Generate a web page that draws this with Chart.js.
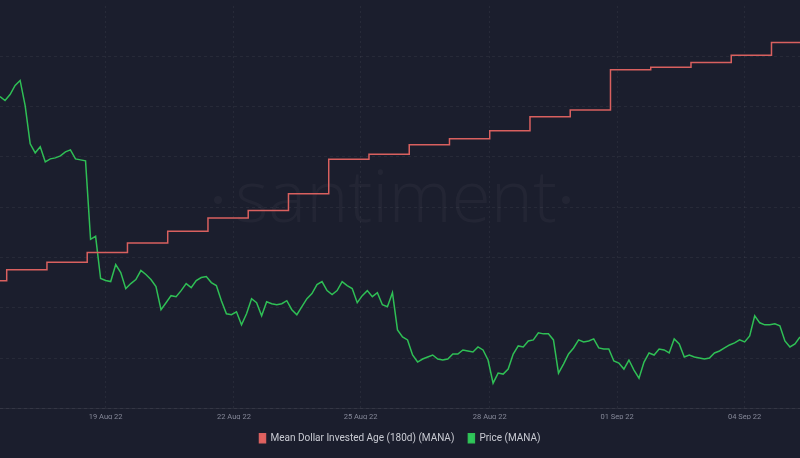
<!DOCTYPE html>
<html>
<head>
<meta charset="utf-8">
<script src="https://cdn.jsdelivr.net/npm/chart.js@4.4.0/dist/chart.umd.min.js"></script>
<style>
  html, body { margin: 0; padding: 0; background: #1b1e2d; }
  canvas { display: block; }
</style>
</head>
<body>
<canvas id="mdiaChart" width="800" height="458"></canvas>
<script>
// hours counted from 16 Aug 2022 ~20:00, price sampled every 3h
const priceStepHours = 3;
const priceMana = [
  0.954, 0.950, 0.956, 0.965, 0.970, 0.945, 0.907, 0.898, 0.904, 0.889,
  0.892, 0.893, 0.895, 0.899, 0.901, 0.892, 0.891, 0.890, 0.812, 0.815,
  0.773, 0.771, 0.770, 0.787, 0.779, 0.763, 0.768, 0.772, 0.781, 0.777,
  0.772, 0.765, 0.742, 0.749, 0.756, 0.755, 0.761, 0.768, 0.764, 0.771,
  0.774, 0.775, 0.769, 0.766, 0.751, 0.738, 0.737, 0.740, 0.727, 0.738,
  0.753, 0.749, 0.736, 0.750, 0.748, 0.747, 0.748, 0.751, 0.742, 0.737,
  0.745, 0.753, 0.758, 0.767, 0.770, 0.761, 0.757, 0.761, 0.770, 0.766,
  0.763, 0.749, 0.756, 0.761, 0.755, 0.759, 0.747, 0.745, 0.759, 0.722,
  0.715, 0.712, 0.697, 0.690, 0.693, 0.695, 0.697, 0.693, 0.692, 0.693,
  0.698, 0.698, 0.702, 0.701, 0.700, 0.705, 0.702, 0.692, 0.669, 0.679,
  0.678, 0.683, 0.698, 0.706, 0.705, 0.711, 0.712, 0.719, 0.718, 0.718,
  0.712, 0.679, 0.688, 0.698, 0.704, 0.712, 0.710, 0.711, 0.713, 0.704,
  0.703, 0.703, 0.691, 0.689, 0.683, 0.692, 0.682, 0.674, 0.690, 0.699,
  0.697, 0.703, 0.702, 0.699, 0.713, 0.708, 0.695, 0.697, 0.695, 0.694,
  0.693, 0.694, 0.699, 0.701, 0.704, 0.707, 0.709, 0.712, 0.710, 0.716,
  0.736, 0.729, 0.727, 0.727, 0.728, 0.726, 0.711, 0.705, 0.708, 0.715
];

// daily MDIA (180d): first value for 16 Aug, then one per midnight from 17 Aug
const mdiaFirstStepHour = 4;
const mdiaMana = [
  102.07, 103.17, 103.93, 104.90, 105.83, 107.00, 108.33, 109.07, 110.73, 114.17,
  114.67, 115.60, 116.20, 117.00, 118.40, 119.07, 123.07, 123.30, 123.77, 124.50,
  125.77
];

const tickHours = [63, 139.5, 215, 292, 368, 444];
const tickLabels = ['19 Aug 22', '22 Aug 22', '25 Aug 22', '28 Aug 22', '01 Sep 22', '04 Sep 22'];

const totalHours = (priceMana.length - 1) * priceStepHours;

const priceData = priceMana.map((v, i) => ({ x: i * priceStepHours, y: v }));
const mdiaData = mdiaMana.map((v, i) => ({ x: i === 0 ? 0 : mdiaFirstStepHour + (i - 1) * 24, y: v }));
mdiaData.push({ x: totalHours, y: mdiaMana[mdiaMana.length - 1] });

const gridColor = 'rgba(255,255,255,0.055)';

const watermark = {
  id: 'watermark',
  beforeDatasetsDraw(chart) {
    const { ctx, chartArea } = chart;
    const cx = (chartArea.left + chartArea.right) / 2 - 4;
    ctx.save();
    ctx.fillStyle = 'rgba(255,255,255,0.035)';
    ctx.font = '300 100px "Open Sans"';
    const w = ctx.measureText('santiment').width;
    const size = 100 * 322 / w;
    ctx.font = '300 ' + size + 'px "Open Sans"';
    ctx.textAlign = 'center';
    ctx.textBaseline = 'alphabetic';
    ctx.fillText('santiment', cx, 222);
    ctx.beginPath();
    ctx.arc(cx - 178, 200, 4, 0, Math.PI * 2);
    ctx.arc(cx + 170, 200, 4, 0, Math.PI * 2);
    ctx.fill();
    ctx.restore();
  }
};

Chart.defaults.font.family = 'Roboto';

new Chart(document.getElementById('mdiaChart'), {
  type: 'line',
  data: {
    datasets: [
      {
        label: 'Mean Dollar Invested Age (180d) (MANA)',
        data: mdiaData,
        yAxisID: 'yMdia',
        stepped: true,
        borderColor: '#d9605f',
        backgroundColor: '#e2625f',
        borderWidth: 1.5,
        pointRadius: 0,
        fill: false
      },
      {
        label: 'Price (MANA)',
        data: priceData,
        yAxisID: 'yPrice',
        borderColor: '#2fbf55',
        backgroundColor: '#2fc85b',
        borderWidth: 1.5,
        pointRadius: 0,
        tension: 0,
        fill: false
      }
    ]
  },
  options: {
    responsive: false,
    animation: false,
    layout: { padding: { top: 6, bottom: 4.7, left: 0, right: 0 } },
    plugins: {
      legend: {
        position: 'bottom',
        labels: {
          color: '#c9cbd3',
          font: { size: 10 },
          boxWidth: 6,
          boxHeight: 9,
          padding: 14
        }
      },
      tooltip: { enabled: false }
    },
    scales: {
      x: {
        type: 'linear',
        min: 0,
        max: totalHours,
        afterBuildTicks(axis) {
          axis.ticks = tickHours.map(v => ({ value: v }));
        },
        afterFit(axis) {
          axis.height = 11;
        },
        ticks: {
          color: '#858898',
          font: { size: 7.5 },
          padding: 4,
          maxRotation: 0,
          autoSkip: false,
          callback: (v, i) => tickLabels[i]
        },
        grid: { color: gridColor, drawTicks: false },
        border: { display: true, color: 'rgba(255,255,255,0.06)', dash: [2, 3] }
      },
      g: {
        type: 'linear',
        position: 'left',
        min: 0,
        max: 8,
        ticks: { display: false, stepSize: 1 },
        grid: {
          drawTicks: false,
          color: ctx => ctx.tick && ctx.tick.value === 8 ? 'rgba(0,0,0,0)' : gridColor
        },
        border: { display: false, dash: [3, 3] }
      },
      yPrice: {
        display: false,
        min: 0.644,
        max: 1.044
      },
      yMdia: {
        display: false,
        min: 89.4,
        max: 129.4
      }
    }
  },
  plugins: [watermark]
});
</script>
</body>
</html>
